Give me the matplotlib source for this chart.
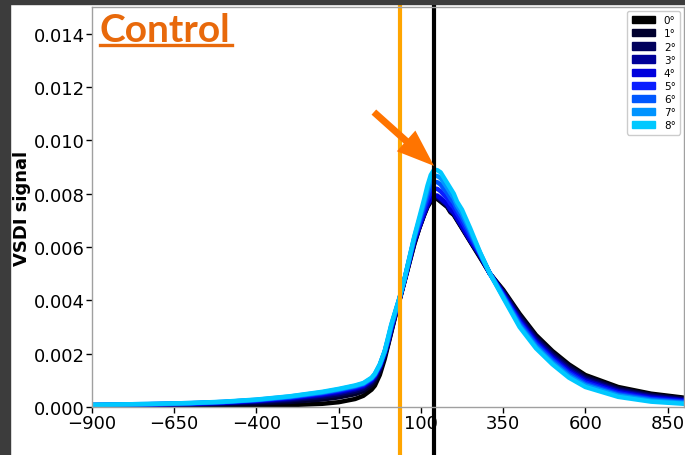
import matplotlib
matplotlib.use("Agg")
import matplotlib.pyplot as plt
from matplotlib.patches import Rectangle, Patch
from matplotlib.lines import Line2D
from matplotlib.ticker import FormatStrFormatter

# time axis (ms)
t = [-900, -800, -700, -600, -500, -400, -300, -200, -150, -100, -75, -50, -40, -25, -10,
     0, 10, 20, 35, 50, 65, 80, 95, 110, 120, 130, 140, 150, 160, 170, 180, 190, 200, 210,
     225, 250, 280, 310, 350, 400, 450, 500, 550, 600, 700, 800, 900]

# VSDI signal for each offset
sig_0 = [0.00002, 0.00002, 0.00003, 0.00003, 0.00004, 0.00005, 0.00007, 0.00012, 0.00018, 0.00030, 0.00042, 0.00065, 0.00080, 0.00120, 0.00180,
         0.0023, 0.0028, 0.0033, 0.0040, 0.0047, 0.0054, 0.0061, 0.0067, 0.0072, 0.0075, 0.0077, 0.0078, 0.0078, 0.0077, 0.0076, 0.0075, 0.0073, 0.0072, 0.0070,
         0.0067, 0.0062, 0.0056, 0.0050, 0.0044, 0.0035, 0.0027, 0.0021, 0.0016, 0.0012, 0.00075, 0.00050, 0.00035]
sig_1 = [0.00004, 0.00005, 0.00006, 0.00007, 0.00010, 0.00013, 0.00019, 0.00028, 0.00036, 0.00048, 0.00059, 0.00081, 0.00096, 0.00134, 0.00191,
         0.00234, 0.00284, 0.00333, 0.00401, 0.00471, 0.00543, 0.00614, 0.00671, 0.00722, 0.00752, 0.00773, 0.00783, 0.00783, 0.00773, 0.00763, 0.00753, 0.00733, 0.00722, 0.00702,
         0.00672, 0.00622, 0.00563, 0.0050, 0.00436, 0.00344, 0.00264, 0.00204, 0.00154, 0.00114, 0.00070, 0.00046, 0.00032]
sig_2 = [0.00005, 0.00006, 0.00008, 0.00010, 0.00013, 0.00018, 0.00025, 0.00037, 0.00046, 0.00058, 0.00068, 0.00090, 0.00105, 0.00142, 0.00197,
         0.00238, 0.00288, 0.00335, 0.00403, 0.00473, 0.00545, 0.00618, 0.00672, 0.00724, 0.00755, 0.00776, 0.00787, 0.00786, 0.00777, 0.00766, 0.00755, 0.00735, 0.00725, 0.00704,
         0.00674, 0.00623, 0.00565, 0.0050, 0.00433, 0.00338, 0.00258, 0.00198, 0.00148, 0.00109, 0.00066, 0.00043, 0.00029]
sig_3 = [0.00006, 0.00007, 0.00009, 0.00011, 0.00015, 0.00021, 0.00029, 0.00043, 0.00052, 0.00065, 0.00075, 0.00096, 0.00111, 0.00147, 0.00200,
         0.00241, 0.00291, 0.00338, 0.00404, 0.00474, 0.00548, 0.00621, 0.00674, 0.00725, 0.00757, 0.00779, 0.00790, 0.00790, 0.00780, 0.00769, 0.00758, 0.00738, 0.00727, 0.00706,
         0.00676, 0.00625, 0.00568, 0.0050, 0.00429, 0.00331, 0.00251, 0.00191, 0.00141, 0.00103, 0.00061, 0.00039, 0.00026]
sig_4 = [0.00007, 0.00008, 0.00010, 0.00012, 0.00016, 0.00023, 0.00033, 0.00047, 0.00057, 0.00070, 0.00079, 0.00100, 0.00115, 0.00151, 0.00203,
         0.00245, 0.00295, 0.00340, 0.00405, 0.00475, 0.00550, 0.00625, 0.00675, 0.00727, 0.00760, 0.00782, 0.00793, 0.00793, 0.00783, 0.00772, 0.00761, 0.00741, 0.00730, 0.00708,
         0.00678, 0.00626, 0.00570, 0.0050, 0.00425, 0.00325, 0.00245, 0.00185, 0.00135, 0.00098, 0.00057, 0.00035, 0.00024]
sig_5 = [0.00007, 0.00009, 0.00011, 0.00013, 0.00018, 0.00025, 0.00035, 0.00051, 0.00061, 0.00074, 0.00083, 0.00104, 0.00119, 0.00154, 0.00206,
         0.00249, 0.00299, 0.00343, 0.00406, 0.00476, 0.00553, 0.00629, 0.00684, 0.00741, 0.00778, 0.00805, 0.00819, 0.00818, 0.00809, 0.00795, 0.00782, 0.00762, 0.00748, 0.00725,
         0.00695, 0.00638, 0.00573, 0.0050, 0.00421, 0.00319, 0.00239, 0.00179, 0.00129, 0.00092, 0.00052, 0.00031, 0.00021]
sig_6 = [0.00008, 0.00009, 0.00011, 0.00014, 0.00019, 0.00026, 0.00037, 0.00053, 0.00064, 0.00077, 0.00086, 0.00106, 0.00121, 0.00157, 0.00208,
         0.00253, 0.00303, 0.00345, 0.00408, 0.00478, 0.00555, 0.00633, 0.00693, 0.00755, 0.00796, 0.00828, 0.00844, 0.00843, 0.00834, 0.00818, 0.00802, 0.00782, 0.00766, 0.00741,
         0.00711, 0.00649, 0.00575, 0.0050, 0.00418, 0.00313, 0.00233, 0.00173, 0.00123, 0.00086, 0.00047, 0.00028, 0.00018]
sig_7 = [0.00008, 0.00010, 0.00012, 0.00015, 0.00019, 0.00027, 0.00039, 0.00055, 0.00066, 0.00079, 0.00088, 0.00108, 0.00123, 0.00158, 0.00209,
         0.00256, 0.00306, 0.00348, 0.00409, 0.00479, 0.00558, 0.00636, 0.00702, 0.00768, 0.00814, 0.00850, 0.00868, 0.00866, 0.00858, 0.00840, 0.00822, 0.00802, 0.00784, 0.00756,
         0.00726, 0.00660, 0.00578, 0.0050, 0.00414, 0.00306, 0.00226, 0.00166, 0.00116, 0.00081, 0.00043, 0.00024, 0.00015]
sig_8 = [0.00008, 0.00010, 0.00012, 0.00015, 0.00020, 0.00028, 0.00040, 0.00057, 0.00068, 0.00081, 0.00090, 0.00110, 0.00125, 0.00160, 0.00210,
         0.0026, 0.0031, 0.0035, 0.0041, 0.0048, 0.0056, 0.0064, 0.0071, 0.0078, 0.0083, 0.0087, 0.0089, 0.00888, 0.0088, 0.0086, 0.0084, 0.0082, 0.0080, 0.0077,
         0.0074, 0.0067, 0.0058, 0.0050, 0.0041, 0.0030, 0.0022, 0.0016, 0.0011, 0.00075, 0.00038, 0.00020, 0.00012]

labels = ["0°", "1°", "2°", "3°", "4°", "5°", "6°", "7°", "8°"]
colors = ["#000000", "#00002e", "#00005c", "#000099", "#0000dd",
          "#0a1eff", "#0058ff", "#0094ff", "#00c8ff"]
signals = [sig_0, sig_1, sig_2, sig_3, sig_4, sig_5, sig_6, sig_7, sig_8]

onset_t = 35
peak_t = 140
xticks = [-900, -650, -400, -150, 100, 350, 600, 850]
yticks = [0.000, 0.002, 0.004, 0.006, 0.008, 0.010, 0.012, 0.014]

fig = plt.figure(figsize=(6.85, 4.56), dpi=100)
# dark screenshot border on the left and top
fig.patches.append(Rectangle((0, 0), 10 / 685, 1, transform=fig.transFigure,
                             color="#3c3c3c", zorder=0))
fig.patches.append(Rectangle((0, 1 - 5 / 456), 1, 5 / 456, transform=fig.transFigure,
                             color="#3c3c3c", zorder=0))

ax = fig.add_axes([92 / 685, 48 / 456, 592 / 685, 400 / 456])

for s, c in zip(signals, colors):
    ax.plot(t, s, color=c, lw=3.2, solid_joinstyle="round")

ax.axvline(onset_t, ymin=-0.2, ymax=1, color="#ffa500", lw=3, clip_on=False)
ax.axvline(peak_t, ymin=-0.2, ymax=1, color="black", lw=3, clip_on=False)

ax.annotate("", xy=(peak_t, 0.00904), xytext=(-43, 0.01106),
            arrowprops=dict(facecolor="#ff7400", edgecolor="none", width=5,
                            headwidth=20, headlength=27, shrink=0))

ax.set_xlim(-900, 900)
ax.set_ylim(0, 0.015)
ax.set_xticks(xticks)
ax.set_yticks(yticks)
ax.yaxis.set_major_formatter(FormatStrFormatter("%.3f"))
ax.tick_params(labelsize=13, length=4, width=1, pad=1)
for sp in ax.spines.values():
    sp.set_color("#a0a0a0")
    sp.set_linewidth(1)
ax.set_ylabel("VSDI signal", fontsize=13, fontweight="bold", labelpad=2)

handles = [Patch(facecolor=c, edgecolor=c, label=l) for c, l in zip(colors, labels)]
ax.legend(handles=handles, loc="upper right", fontsize=7.5, labelspacing=0.3,
          handlelength=2.3, handleheight=0.7, borderaxespad=0.4, framealpha=1)

title_pos = (0.013, 0.915)
title = ax.text(*title_pos, "Control", transform=ax.transAxes, fontsize=28,
                fontweight="bold", family="Lato", color="#e8690b", va="baseline")
fig.canvas.draw()
bb = title.get_window_extent()
base_y = ax.transAxes.transform(title_pos)[1]
uy = (base_y - 4) / fig.bbox.height
fig.lines.append(Line2D([bb.x0 / fig.bbox.width, (bb.x1 + 2) / fig.bbox.width], [uy, uy],
                        transform=fig.transFigure, color="#e8690b", lw=2.4))

fig.savefig("out.png", dpi=100)
